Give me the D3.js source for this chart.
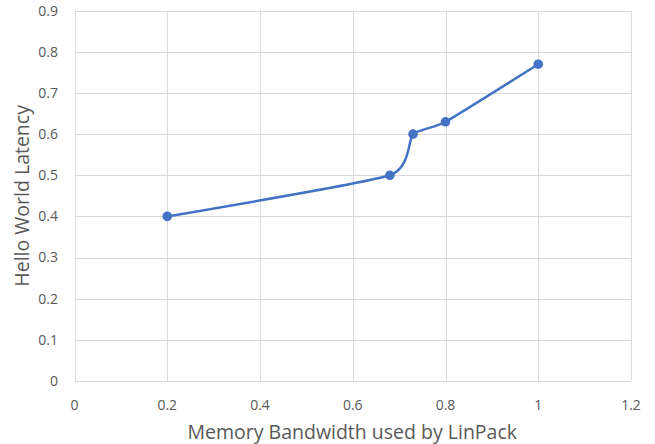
<!DOCTYPE html>
<html>
<head>
  <style>
    body { margin: 0; padding: 0; background: #fff; }
    text { font-family: "Open Sans", sans-serif; }
  </style>
</head>
<body>
  <div id="chart"></div>
  <script src="https://d3js.org/d3.v7.min.js"></script>
  <script>
    // data
    var bandwidth = [0.2, 0.68, 0.73, 0.8, 1.0];
    var latency = [0.4, 0.5, 0.6, 0.63, 0.77];
    var xTicks = [0, 0.2, 0.4, 0.6, 0.8, 1, 1.2];
    var yTicks = [0, 0.1, 0.2, 0.3, 0.4, 0.5, 0.6, 0.7, 0.8, 0.9];

    var width = 655, height = 444;
    var plotLeft = 74.5, plotRight = 631, plotTop = 10.7, plotBottom = 381;

    var svg = d3.select('#chart').append('svg')
      .attr('width', width).attr('height', height);

    var x = d3.scaleLinear().domain([0, 1.2]).range([plotLeft, plotRight]);
    var y = d3.scaleLinear().domain([0, 0.9]).range([plotBottom, plotTop]);

    // gridlines
    svg.append('g').selectAll('line').data(yTicks).enter().append('line')
      .attr('x1', plotLeft).attr('x2', plotRight)
      .attr('y1', function(d) { return Math.round(y(d)) + 0.5; })
      .attr('y2', function(d) { return Math.round(y(d)) + 0.5; })
      .attr('stroke', '#d9d9d9').attr('stroke-width', 1);
    svg.append('g').selectAll('line').data(xTicks).enter().append('line')
      .attr('y1', plotTop).attr('y2', plotBottom)
      .attr('x1', function(d) { return Math.round(x(d)) + 0.5; })
      .attr('x2', function(d) { return Math.round(x(d)) + 0.5; })
      .attr('stroke', '#d9d9d9').attr('stroke-width', 1);

    // tick labels
    svg.append('g').selectAll('text').data(yTicks).enter().append('text')
      .attr('x', 58).attr('y', function(d) { return y(d); })
      .attr('dy', '0.35em').attr('text-anchor', 'end')
      .attr('font-size', 14).attr('fill', '#595959')
      .text(function(d) { return d3.format('~g')(d); });
    svg.append('g').selectAll('text').data(xTicks).enter().append('text')
      .attr('x', function(d) { return x(d); }).attr('y', 405)
      .attr('dy', '0.35em').attr('text-anchor', 'middle')
      .attr('font-size', 14).attr('fill', '#595959')
      .text(function(d) { return d3.format('~g')(d); });

    // axis titles
    svg.append('text')
      .attr('x', (plotLeft + plotRight) / 2 - 0.5).attr('y', 432)
      .attr('dy', '0.35em').attr('text-anchor', 'middle')
      .attr('font-size', 19.5).attr('fill', '#595959')
      .text('Memory Bandwidth used by LinPack');
    svg.append('text')
      .attr('transform', 'translate(22,' + ((plotTop + plotBottom) / 2) + ') rotate(-90)')
      .attr('dy', '0.35em').attr('text-anchor', 'middle')
      .attr('font-size', 19.5).attr('fill', '#595959')
      .text('Hello World Latency');

    var pts = bandwidth.map(function(b, i) { return [b, latency[i]]; });

    // excel-ish smoothing
    var line = d3.line()
      .x(function(d) { return x(d[0]); })
      .y(function(d) { return y(d[1]); })
      .curve(d3.curveCardinal.tension(0.5));

    svg.append('path').datum(pts)
      .attr('d', line)
      .attr('fill', 'none')
      .attr('stroke', '#4472c4')
      .attr('stroke-width', 2.5)
      .attr('stroke-linecap', 'round');

    svg.append('g').selectAll('circle').data(pts).enter().append('circle')
      .attr('cx', function(d) { return x(d[0]); })
      .attr('cy', function(d) { return y(d[1]); })
      .attr('r', 4.8)
      .attr('fill', '#4472c4');
  </script>
</body>
</html>
